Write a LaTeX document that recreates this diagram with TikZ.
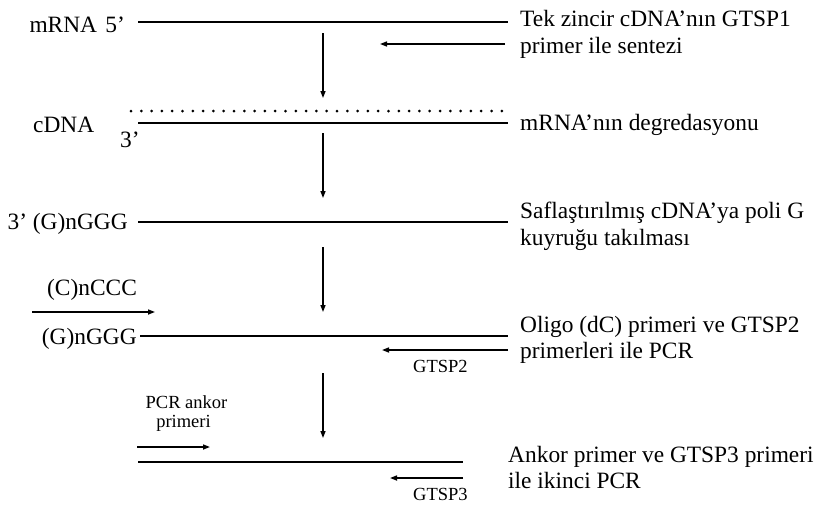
\documentclass[tikz,border=0pt]{standalone}
\usepackage{fontspec}
\setmainfont{Liberation Serif}
\usetikzlibrary{arrows.meta}
\begin{document}
\begin{tikzpicture}[x=1pt,y=1pt,
  strand/.style={line width=1.8pt},
  primer/.style={line width=1.5pt,-{Triangle[length=7pt,width=5pt]}},
  flow/.style={line width=1.3pt,-{Triangle[length=7pt,width=5pt]}},
  degraded/.style={line width=3pt,line cap=round,dash pattern=on 0pt off 10.3pt},
  big/.style={font=\fontsize{23.4}{27}\selectfont,inner sep=0pt},
  small/.style={font=\fontsize{18.5}{20}\selectfont,inner sep=0pt}]
\useasboundingbox (0,0) rectangle (814,-504);
% coordinates
\coordinate (m1) at (138,-22);   \coordinate (m2) at (508,-22);
\coordinate (p1a) at (505,-44);  \coordinate (p1b) at (380,-44);
\coordinate (d1) at (131,-111);  \coordinate (d2) at (508,-111);
\coordinate (c1) at (138,-123);  \coordinate (c2) at (508,-123);
\coordinate (g1) at (138,-222);  \coordinate (g2) at (508,-222);
\coordinate (cc1) at (32,-312);  \coordinate (cc2) at (155,-312);
\coordinate (h1) at (140,-336);  \coordinate (h2) at (508,-336);
\coordinate (p2a) at (508,-350); \coordinate (p2b) at (382,-350);
\coordinate (an1) at (137,-447); \coordinate (an2) at (210,-447);
\coordinate (f1) at (138,-462);  \coordinate (f2) at (463,-462);
\coordinate (p3a) at (463,-478); \coordinate (p3b) at (390,-478);
\coordinate (a1s) at (323,-33);  \coordinate (a1e) at (323,-98);
\coordinate (a2s) at (323,-133); \coordinate (a2e) at (323,-198);
\coordinate (a3s) at (323,-247); \coordinate (a3e) at (323,-312);
\coordinate (a4s) at (323,-373); \coordinate (a4e) at (323,-438);
% strands
\draw[strand] (m1) -- (m2);
\draw[degraded] (d1) -- (d2);
\draw[strand] (c1) -- (c2);
\draw[strand] (g1) -- (g2);
\draw[strand] (h1) -- (h2);
\draw[strand] (f1) -- (f2);
% primers
\draw[primer] (p1a) -- (p1b);
\draw[primer] (cc1) -- (cc2);
\draw[primer] (p2a) -- (p2b);
\draw[primer] (an1) -- (an2);
\draw[primer] (p3a) -- (p3b);
% flow arrows
\draw[flow] (a1s) -- (a1e);
\draw[flow] (a2s) -- (a2e);
\draw[flow] (a3s) -- (a3e);
\draw[flow] (a4s) -- (a4e);
% left labels
\node[big,anchor=base east] (lm) at (125,-32) {mRNA\hspace{0.35em}5’};
\node[big,anchor=base west] (lc) at (33,-132) {cDNA};
\node[big,anchor=base west] (l3) at (120,-147) {3’};
\node[big,anchor=base east] (lg1) at (128,-229) {3’ (G)nGGG};
\node[big,anchor=base west] (lcc) at (47,-295) {(C)nCCC};
\node[big,anchor=base east] (lg2) at (137,-344) {(G)nGGG};
\node[small,anchor=base] (lan1) at (186.5,-408) {PCR ankor};
\node[small,anchor=base] (lan2) at (183.5,-427) {primeri};
\node[small,anchor=base west] (lp2) at (413,-372) {GTSP2};
\node[small,anchor=base west] (lp3) at (413,-500) {GTSP3};
% right labels
\node[big,anchor=base west] (r1a) at (520,-26) {Tek zincir cDNA’nın GTSP1};
\node[big,anchor=base west] (r1b) at (520,-53) {primer ile sentezi};
\node[big,anchor=base west] (r2) at (520,-130) {mRNA’nın degredasyonu};
\node[big,anchor=base west] (r3a) at (520,-218) {Saflaştırılmış cDNA’ya poli G};
\node[big,anchor=base west] (r3b) at (520,-245) {kuyruğu takılması};
\node[big,anchor=base west] (r4a) at (520,-332) {Oligo (dC) primeri ve GTSP2};
\node[big,anchor=base west] (r4b) at (520,-358) {primerleri ile PCR};
\node[big,anchor=base west] (r5a) at (508,-462) {Ankor primer ve GTSP3 primeri};
\node[big,anchor=base west] (r5b) at (508,-488) {ile ikinci PCR};
\end{tikzpicture}
\end{document}
